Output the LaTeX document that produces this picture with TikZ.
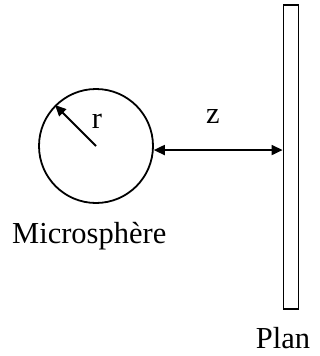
\documentclass[tikz,border=0pt]{standalone}
\usepackage{fontspec}
\setmainfont{Liberation Serif}
\usetikzlibrary{arrows.meta, positioning}
\tikzset{
  trait/.style={draw, line width=1.8pt},
  fleche/.style={line width=1.8pt, -{Triangle[length=11pt,width=10pt]}},
  doublefleche/.style={line width=1.8pt, {Triangle[length=11pt,width=10pt]}-{Triangle[length=11pt,width=10pt]}},
  etiquette/.style={font=\fontsize{30.5}{35}\selectfont, inner sep=0pt}
}
\begin{document}
\begin{tikzpicture}[x=1pt, y=-1pt]
        \useasboundingbox (0,0) rectangle (320,356);
        % Sphere and plate
        \node[trait, circle, minimum size=114pt, inner sep=0pt] (sphere) at (96,146) {};
        \node[trait, rectangle, minimum width=15pt, minimum height=304pt, inner sep=0pt] (plan) at (291,157) {};
        % Radius
        \draw[fleche] (sphere.center) -- (sphere.135);
        \node[etiquette, anchor=base] (r) at (97,128) {r};
        % Distance
        \draw[doublefleche] (sphere.-4) -- (sphere.-4 -| plan.west);
        \node[etiquette, anchor=base] (z) at (213,123) {z};
        % Labels
        \node[etiquette, anchor=base west] (lsphere) at (12,243) {Microsphère};
        \node[etiquette, anchor=base] (lplan) at (283,348) {Plan};
      \end{tikzpicture}
\end{document}
